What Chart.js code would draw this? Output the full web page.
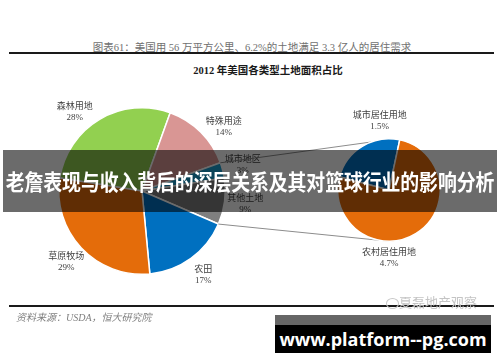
<!DOCTYPE html>
<html>
<head>
<meta charset="utf-8">
<script src="https://cdn.jsdelivr.net/npm/chart.js@4.4.1/dist/chart.umd.min.js"></script>
<style>
  body { margin: 0; background: #fff; }
  #wrap { position: relative; width: 500px; height: 362px; overflow: hidden;
          font-family: "Liberation Serif", "Noto Sans CJK SC", serif; color: #404040; }
  #wrap canvas { position: absolute; left: 0; top: 0; }
  .t { position: absolute; white-space: nowrap; }
  .rule { position: absolute; left: 9px; width: 485px; height: 2px; background: #1a1a1a; }
</style>
</head>
<body>
<div id="wrap">
  <div class="t" style="left:252px;top:39px;transform:translateX(-50%);font-size:10.5px;color:#707070">图表61：美国用 56 万平方公里、6.2%的土地满足 3.3 亿人的居住需求</div>
  <div class="rule" style="top:52px"></div>
  <div class="t" style="left:268px;top:62px;transform:translateX(-50%);font-size:10.5px;font-weight:bold;color:#1a1a1a">2012 年美国各类型土地面积占比</div>

  <canvas id="mainPie" width="500" height="362"></canvas>
  <canvas id="subPie" width="500" height="362"></canvas>

  <div class="rule" style="top:305px"></div>
  <div class="t" style="left:16px;top:309px;font-size:10px;font-style:italic;color:#808080">资料来源：USDA，恒大研究院</div>
  <div class="t" style="left:386px;top:292px;font-size:13px;color:#c4c4c4;font-family:'Noto Sans CJK SC'">
    <span style="display:inline-block;width:11px;height:9px;border:1px solid #c8c8c8;border-radius:50%;vertical-align:middle"></span>夏磊地产观察</div>

  <div class="t" style="left:3px;top:150px;width:494px;height:62px;background:rgba(0,0,0,0.58)"></div>
  <div class="t" style="left:3px;top:150px;width:494px;line-height:62px;text-align:center;color:#fff;font-weight:bold;font-size:18.9px;letter-spacing:-0.1px;transform:scaleY(1.12);font-family:'Noto Sans CJK SC'">老詹表现与收入背后的深层关系及其对篮球行业的影响分析</div>

  <div class="t" style="left:275px;top:315px;width:216px;height:10px;background:#666"></div>
  <div class="t" style="left:275px;top:325px;width:216px;height:28px;background:#000;color:#fff;font-weight:bold;font-size:18px;line-height:28px;text-align:center;font-family:'Open Sans'">www.platform--pg.com</div>
</div>

<script>
// main pie: share of US land area, 2012 (%)
const landTypes = ['森林用地', '特殊用途', '城市地区', '其他土地', '农田', '草原牧场'];
const landShares = [28, 14, 3, 9, 17, 29];
const landColors = ['#92d050', '#d99694', '#1a9fd2', '#7f7f7f', '#0070c0', '#e46c0a'];

// secondary pie: residential land (%)
const homeTypes = ['城市居住用地', '农村居住用地'];
const homeShares = [1.5, 4.7];
const homeColors = ['#0070c0', '#e46c0a'];

const labelFont = '9px "Liberation Serif", "Noto Sans CJK SC"';

function drawPair(ctx, name, pct, x, y) {
    ctx.fillText(name, x, y - 5.5);
    ctx.fillText(pct + '%', x, y + 5.5);
}

const mainLabels = {
    id: 'mainLabels',
    afterDraw(chart) {
        const ctx = chart.ctx;
        const meta = chart.getDatasetMeta(0);
        ctx.save();
        ctx.font = labelFont;
        ctx.fillStyle = '#404040';
        ctx.textAlign = 'center';
        ctx.textBaseline = 'middle';
        meta.data.forEach((arc, i) => {
            let mid = (arc.startAngle + arc.endAngle) / 2;
            // upper slices: labels sit a little lower, like Excel's best fit
            if (Math.sin(mid) < -0.5) mid += Math.cos(mid) > 0 ? 0.12 : -0.17;
            const d = arc.outerRadius * 1.25;
            drawPair(ctx, landTypes[i], landShares[i],
                arc.x + Math.cos(mid) * d, arc.y + Math.sin(mid) * d);
        });
        ctx.restore();
    }
};

const subLabels = {
    id: 'subLabels',
    beforeDraw(chart) {
        // connector lines from the main pie's urban wedge to the secondary pie
        const main = window.mainChart;
        if (!main) return;
        const m = main.getDatasetMeta(0).data;
        const s = chart.getDatasetMeta(0).data[0];
        const a1 = m[2].startAngle, a2 = m[3].endAngle;
        const ctx = chart.ctx;
        ctx.save();
        ctx.strokeStyle = '#8c8c8c';
        ctx.lineWidth = 1;
        ctx.beginPath();
        ctx.moveTo(m[2].x + Math.cos(a1) * m[2].outerRadius, m[2].y + Math.sin(a1) * m[2].outerRadius);
        const top = -Math.PI / 2 - 0.36;
        ctx.lineTo(s.x + Math.cos(top) * s.outerRadius, s.y + Math.sin(top) * s.outerRadius);
        ctx.moveTo(m[3].x + Math.cos(a2) * m[3].outerRadius, m[3].y + Math.sin(a2) * m[3].outerRadius);
        ctx.lineTo(s.x, s.y + s.outerRadius);
        ctx.stroke();
        ctx.restore();
    },
    afterDraw(chart) {
        const ctx = chart.ctx;
        const meta = chart.getDatasetMeta(0);
        ctx.save();
        ctx.font = labelFont;
        ctx.fillStyle = '#404040';
        ctx.textAlign = 'center';
        ctx.textBaseline = 'middle';
        meta.data.forEach((arc, i) => {
            const mid = (arc.startAngle + arc.endAngle) / 2;
            const upper = Math.sin(mid) < 0;
            const x = upper ? arc.x + Math.cos(mid) * arc.outerRadius * 0.35 : arc.x;
            const y = upper ? arc.y - arc.outerRadius - 18 : arc.y + arc.outerRadius + 17;
            drawPair(ctx, homeTypes[i], homeShares[i], x, y);
        });
        ctx.restore();
    }
};

window.mainChart = new Chart(document.getElementById('mainPie'), {
    type: 'pie',
    data: {
        labels: landTypes,
        datasets: [{
            data: landShares,
            backgroundColor: landColors,
            borderColor: '#fff',
            borderWidth: 1.5
        }]
    },
    options: {
        responsive: false,
        animation: false,
        events: [],
        rotation: -81,
        layout: { padding: { left: 58, right: 274, top: 107, bottom: 87 } },
        plugins: { legend: { display: false }, tooltip: { enabled: false } }
    },
    plugins: [mainLabels]
});

new Chart(document.getElementById('subPie'), {
    type: 'pie',
    data: {
        labels: homeTypes,
        datasets: [{
            data: homeShares,
            backgroundColor: homeColors,
            borderColor: '#fff',
            borderWidth: 1.5
        }]
    },
    options: {
        responsive: false,
        animation: false,
        events: [],
        rotation: -75,
        layout: { padding: { left: 337, right: 59, top: 138, bottom: 120 } },
        plugins: { legend: { display: false }, tooltip: { enabled: false } }
    },
    plugins: [subLabels]
});
</script>
</body>
</html>
